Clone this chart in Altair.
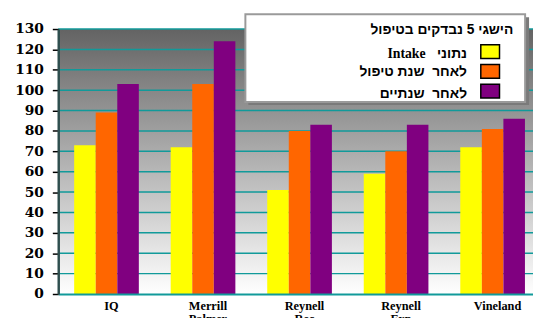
import altair as alt
import pandas as pd

categories = ["IQ", "Merrill Palmer", "Reynell Rec", "Reynell Exp", "Vineland"]
series_keys = ["intake", "year1", "year2"]
values_intake = [73, 72, 51, 59, 72]
values_year1 = [89, 103, 80, 70, 81]
values_year2 = [103, 124, 83, 83, 86]
colors = ["#FFFF00", "#FF6600", "#800080"]
y_ticks = list(range(0, 131, 10))

legend_title = "הישגי 5 נבדקים בטיפול"
legend_row1_he = "נתוני"
legend_row1_en = "Intake"
legend_row2 = "לאחר\u00a0\u00a0שנת טיפול"
legend_row3 = "לאחר\u00a0\u00a0שנתיים"

W, H = 482, 269

rows = []
for s, vals in zip(series_keys, [values_intake, values_year1, values_year2]):
    for c, v in zip(categories, vals):
        rows.append({"category": c, "series": s, "value": v})
df = pd.DataFrame(rows)
grid_df = pd.DataFrame({"value": y_ticks[1:]})
one = pd.DataFrame({"k": [0]})

yscale = alt.Scale(domain=[0, 130])
yaxis = alt.Axis(title=None, values=y_ticks, grid=False, domainColor="#2f4f4f",
                 domainWidth=2.5, tickColor="#000", tickSize=6, tickWidth=1.5,
                 labelFont="DejaVu Serif", labelFontWeight="bold", labelFontSize=14,
                 labelColor="#000", labelPadding=9, zindex=1)

background = alt.Chart(one).mark_rect(
    fill=alt.Gradient(
        gradient="linear",
        stops=[alt.GradientStop(color="#636363", offset=0),
               alt.GradientStop(color="#ffffff", offset=1)],
        x1=0, x2=0, y1=0, y2=1,
    )
).encode(x=alt.value(0), x2=alt.value(W), y=alt.value(0), y2=alt.value(H))

grid = alt.Chart(grid_df).mark_rule(color="#119a9a", strokeWidth=1.5).encode(
    y=alt.Y("value:Q", scale=yscale, axis=yaxis)
)

bars = alt.Chart(df).mark_bar().encode(
    x=alt.X("category:N", sort=categories,
            scale=alt.Scale(range=[0, 490], paddingInner=0.33, paddingOuter=0.165),
            axis=alt.Axis(title=None, labelAngle=0, ticks=False, domainColor="#119a9a",
                          domainWidth=2, labelFont="Liberation Serif", labelFontWeight="bold",
                          labelFontSize=12.5, labelColor="#000", labelPadding=6, labelOffset=5,
                          labelLineHeight=13, labelExpr="split(datum.label, ' ')", zindex=1)),
    xOffset=alt.XOffset("series:N", sort=series_keys, scale=alt.Scale(paddingInner=0)),
    y=alt.Y("value:Q", scale=yscale, axis=yaxis),
    color=alt.Color("series:N", scale=alt.Scale(domain=series_keys, range=colors), legend=None),
)

# legend box
shadow = alt.Chart(one).mark_rect(fill="#7a7a7a").encode(
    x=alt.value(193), x2=alt.value(478), y=alt.value(-12), y2=alt.value(77))
box = alt.Chart(one).mark_rect(fill="#ffffff", stroke="#9a9a9a", strokeWidth=2).encode(
    x=alt.value(190), x2=alt.value(474), y=alt.value(-15), y2=alt.value(74))

title_t = alt.Chart(one).mark_text(text=legend_title, align="right", baseline="middle",
                                   font="Liberation Sans", fontWeight="bold", fontSize=14,
                                   color="#000").encode(x=alt.value(462), y=alt.value(1))
r1he = alt.Chart(one).mark_text(text=legend_row1_he, align="right", baseline="middle",
                                font="Liberation Sans", fontWeight="bold", fontSize=14,
                                color="#000").encode(x=alt.value(415), y=alt.value(25))
r1en = alt.Chart(one).mark_text(text=legend_row1_en, align="right", baseline="middle",
                                font="Liberation Serif", fontWeight="bold", fontSize=14,
                                color="#000").encode(x=alt.value(373), y=alt.value(25))
r2 = alt.Chart(one).mark_text(text=legend_row2, align="right", baseline="middle",
                              font="Liberation Sans", fontWeight="bold", fontSize=14,
                              color="#000").encode(x=alt.value(415), y=alt.value(44))
r3 = alt.Chart(one).mark_text(text=legend_row3, align="right", baseline="middle",
                              font="Liberation Sans", fontWeight="bold", fontSize=14,
                              color="#000").encode(x=alt.value(415), y=alt.value(66))

swatches = []
for i, col in enumerate(colors):
    swatches.append(alt.Chart(one).mark_rect(fill=col, stroke="#000", strokeWidth=1.5).encode(
        x=alt.value(429), x2=alt.value(448), y=alt.value(16 + 20 * i), y2=alt.value(30 + 20 * i)))

chart = alt.layer(background, grid, bars, shadow, box, title_t, r1he, r1en, r2, r3, *swatches).properties(
    width=W, height=H,
    autosize=alt.AutoSizeParams(type="none"),
    padding={"left": 51, "top": 19, "right": 0, "bottom": 22},
).configure_view(stroke=None)

chart.save("out.html", embed_options={"renderer": "svg", "actions": False})
